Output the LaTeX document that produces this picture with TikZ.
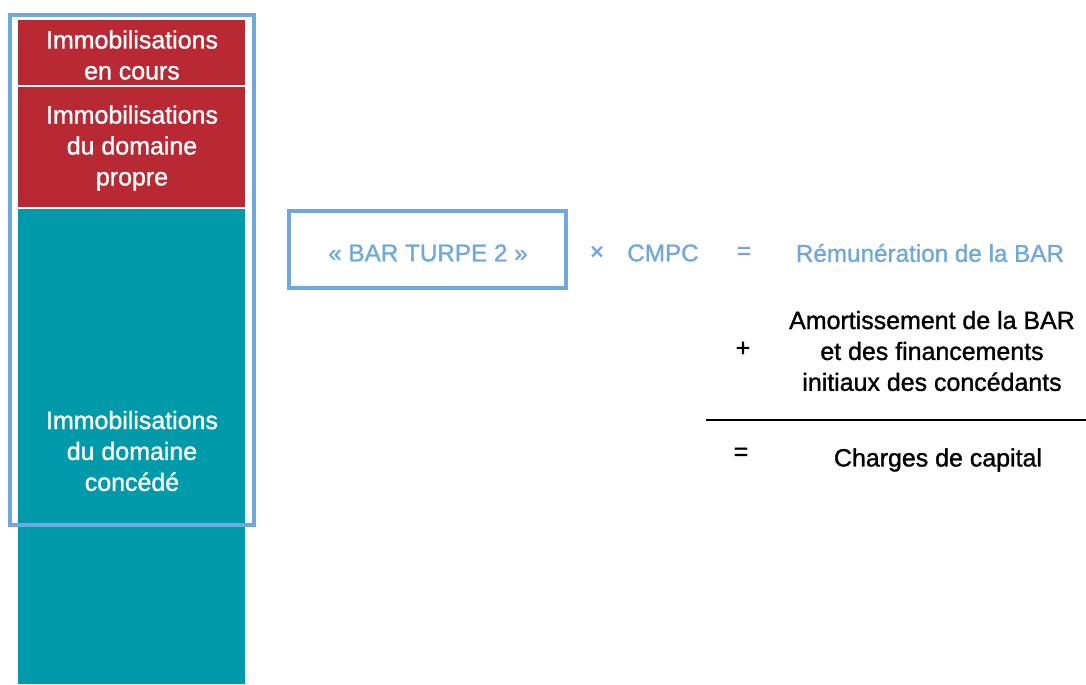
\documentclass[tikz,border=0pt]{standalone}
\usepackage{fontspec}
\setmainfont{Liberation Sans}
\newfontfamily\heavy{Liberation Sans}[FakeBold=1.2]
\definecolor{bilanred}{RGB}{185,41,51}
\definecolor{bilanteal}{RGB}{0,154,170}
\definecolor{bilanblue}{RGB}{111,168,220}
\begin{document}
\begin{tikzpicture}[x=0.02cm, y=-0.02cm,
    lbl/.style={font=\heavy\fontsize{14.2}{17.6}\selectfont, align=center, inner sep=0pt},
    formule/.style={lbl, font=\heavy\fontsize{13.8}{17.6}\selectfont, text=bilanblue},
    actif/.style={lbl, text=white},
    frame/.style={draw=bilanblue, line width=2.2pt}]
    \useasboundingbox (0,0) rectangle (1086,684);

    % Bilan blocks
    \fill[bilanred] (18,20) rectangle (245,85);
    \fill[bilanred] (18,87) rectangle (245,207);
    \fill[bilanteal] (18,209) rectangle (245,684);
    \draw[frame] (10,15) rectangle (254,525);

    \node[actif] (encours) at (132,55) {Immobilisations\\en cours};
    \node[actif] (propre) at (132,148) {Immobilisations\\du domaine\\propre};
    \node[actif] (concede) at (132,451) {Immobilisations\\du domaine\\concédé};

    % Formula, first row
    \draw[frame] (289,211) rectangle (566,288);
    \foreach \n/\x/\t in {bar/428/{« BAR TURPE 2 »}, fois/597/{×}, cmpc/663/{CMPC},
                          egal/744/{=}, remu/930/{Rémunération de la BAR}}
        \node[formule] (\n) at (\x,253) {\t};

    % Formula, second and third rows
    \node[lbl] (plus) at (743,349) {+};
    \node[lbl] (amort) at (932,351) {Amortissement de la BAR\\et des financements\\initiaux des concédants};
    \coordinate (sepg) at (706,420); \coordinate (sepd) at (1086,420);
    \draw[black, line width=0.6pt] (sepg) -- (sepd);
    \node[lbl] (egalb) at (741,454) {=};
    \node[lbl] (charges) at (938,460) {Charges de capital};
\end{tikzpicture}
\end{document}
